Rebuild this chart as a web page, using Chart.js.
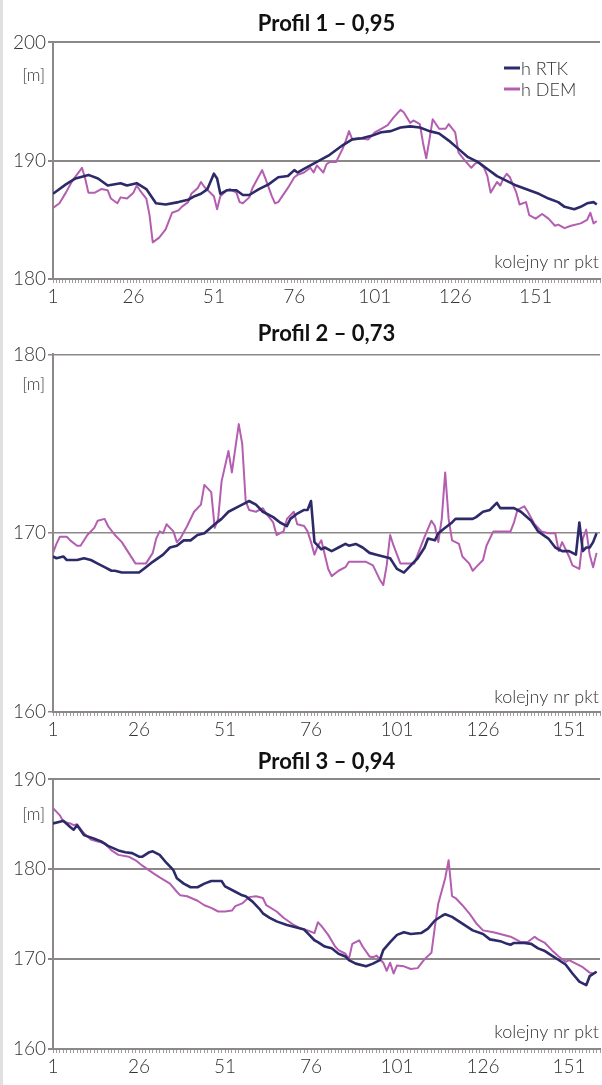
<!DOCTYPE html>
<html><head><meta charset="utf-8">
<script src="https://cdn.jsdelivr.net/npm/chart.js@4.4.1/dist/chart.umd.min.js"></script>
<style>
html,body{margin:0;padding:0;background:#fff;}
body{width:602px;height:1085px;position:relative;overflow:hidden;}
canvas{position:absolute;left:0;}
#edge{position:absolute;left:0;top:0;width:3px;height:1085px;background:#e0e0e0;}
</style></head><body>
<canvas id="c1" width="602" height="309" style="top:0px"></canvas>
<canvas id="c2" width="602" height="433" style="top:309px"></canvas>
<canvas id="c3" width="602" height="337" style="top:742px"></canvas>
<div id="edge"></div>
<script>
// ---- data ----
const xTickLabels = [1, 26, 51, 76, 101, 126, 151];
const seriesNames = ['h RTK', 'h DEM'];
const titles = ['Profil 1 \u2013 0,95', 'Profil 2 \u2013 0,73', 'Profil 3 \u2013 0,94'];
const yUnit = '[m]';
const xAxisName = 'kolejny nr pkt';

// Profil 1
const p1RtkPt = [1,5,8,12,15,18,22,24,27,30,33,36,40,43,45,47,49,51,52,53,55,58,60,62,65,68,71,74,76,77,79,83,87,91,94,97,100,103,106,109,112,115,118,121,124,127,130,133,136,139,142,145,149,152,155,158,160,163,165,167,169,170];
const p1RtkH  = [187.2,188.0,188.5,188.8,188.5,187.9,188.1,187.9,188.1,187.6,186.4,186.3,186.5,186.7,187.0,187.2,187.6,188.9,188.5,187.2,187.5,187.5,187.1,187.1,187.6,188.0,188.6,188.7,189.2,189.0,189.3,189.9,190.5,191.3,191.8,191.9,192.1,192.4,192.5,192.8,192.9,192.8,192.5,192.3,191.7,191.0,190.3,189.9,189.3,188.7,188.3,187.9,187.5,187.2,186.8,186.5,186.1,185.9,186.1,186.4,186.5,186.3];
const p1DemPt = [1,3,5,7,10,11,12,14,16,18,19,21,22,24,26,27,28,30,31,32,34,36,37,38,40,41,43,44,46,47,48,51,52,53,55,56,58,59,60,62,63,65,66,67,69,70,71,73,74,76,77,79,81,82,83,85,86,87,89,91,92,93,94,96,99,101,103,105,107,109,110,112,113,115,116,117,118,119,121,123,124,126,127,129,131,132,133,135,136,137,139,140,141,142,143,145,146,148,149,151,153,155,157,158,160,162,165,167,168,169,170];
const p1DemH  = [186.0,186.4,187.3,188.3,189.4,188.5,187.3,187.3,187.6,187.5,186.8,186.4,186.9,186.8,187.3,187.9,187.5,186.8,185.4,183.1,183.5,184.2,184.9,185.6,185.8,186.1,186.5,187.2,187.7,188.2,187.8,187.0,185.9,187.0,187.5,187.6,187.3,186.5,186.4,186.9,187.7,188.7,189.2,188.5,187.0,186.4,186.5,187.3,187.7,188.6,188.8,189.0,189.4,189.0,189.6,189.0,189.7,189.9,189.9,191.0,191.7,192.5,191.8,191.9,191.8,192.4,192.7,193.0,193.7,194.3,194.1,193.2,193.4,193.1,191.5,190.2,191.8,193.5,192.7,192.7,193.1,192.4,190.7,190.0,189.4,189.7,189.9,189.4,188.7,187.3,188.2,187.9,188.5,188.9,188.6,187.3,186.3,186.5,185.4,185.1,185.5,185.1,184.5,184.6,184.3,184.5,184.7,185.0,185.6,184.7,184.9];

// Profil 2
const p2RtkPt = [1,2,4,5,8,10,12,14,16,18,19,21,23,26,28,30,33,35,37,39,41,43,45,48,50,52,55,57,58,60,62,65,67,69,70,72,74,75,76,77,78,79,80,82,84,86,87,89,91,93,95,97,99,100,101,103,105,107,109,110,112,113,115,117,118,120,123,124,126,128,130,131,134,135,137,140,142,145,147,149,151,153,154,155,156,157,158,159];
const p2RtkH  = [168.7,168.6,168.7,168.5,168.5,168.6,168.5,168.3,168.1,167.9,167.9,167.8,167.8,167.8,168.1,168.4,168.8,169.2,169.3,169.6,169.6,169.9,170.0,170.5,170.8,171.2,171.5,171.7,171.8,171.6,171.2,170.9,170.6,170.4,170.8,171.1,171.3,171.3,171.8,169.5,169.3,169.1,169.2,169.0,169.2,169.4,169.3,169.4,169.2,168.9,168.8,168.7,168.6,168.3,168.0,167.8,168.2,168.6,169.2,169.7,169.6,170.0,170.3,170.6,170.8,170.8,170.8,170.9,171.2,171.3,171.7,171.4,171.4,171.4,171.2,170.7,170.1,169.7,169.2,169.0,169.0,168.8,170.6,169.0,169.2,169.2,169.5,170.0];
const p2DemPt = [1,2,3,5,6,8,9,11,13,14,16,17,19,21,23,25,28,30,31,32,33,34,36,37,38,40,42,44,45,47,48,49,50,52,53,55,56,57,58,60,62,63,65,66,68,69,71,72,74,75,76,77,78,79,80,81,82,84,86,87,89,92,94,96,97,98,99,100,102,104,106,107,109,111,112,113,114,115,116,117,119,120,122,123,124,126,127,129,131,134,135,136,138,139,141,143,145,147,148,149,151,152,154,155,156,157,158,159];
const p2DemH  = [168.9,169.4,169.8,169.8,169.6,169.3,169.3,169.9,170.3,170.7,170.8,170.4,169.9,169.5,168.9,168.3,168.3,168.9,169.7,170.1,170.0,170.5,170.1,169.5,169.7,170.4,171.2,171.6,172.7,172.3,170.3,170.8,172.9,174.6,173.4,176.1,175.0,171.8,171.3,171.2,171.4,171.1,170.6,169.9,170.1,170.8,171.2,170.5,170.4,170.1,169.5,168.8,169.3,169.6,168.8,168.0,167.6,167.9,168.1,168.4,168.4,168.4,168.2,167.4,167.1,168.2,169.9,169.3,168.3,168.3,168.3,168.8,169.8,170.7,170.4,169.5,170.8,173.4,170.8,169.6,169.4,168.7,168.3,167.9,168.1,168.5,169.3,170.1,170.1,170.1,170.6,171.3,171.5,171.2,170.5,170.1,170.0,170.0,169.0,169.5,168.7,168.2,168.0,169.7,170.2,168.8,168.1,168.9];

// Profil 3
const p3RtkPt = [1,3,4,6,7,8,10,13,15,17,20,22,24,26,27,29,30,32,34,36,37,39,41,43,45,47,50,51,54,56,57,59,61,62,64,66,69,71,74,75,77,78,80,82,84,86,87,89,92,94,96,97,99,101,103,105,108,110,112,114,115,117,119,121,123,126,128,131,133,134,135,138,140,142,144,146,148,150,152,154,156,157,159];
const p3RtkH  = [185.1,185.3,185.4,184.7,184.4,184.9,183.8,183.4,183.1,182.6,182.1,181.9,181.8,181.4,181.4,181.9,182.0,181.6,180.7,179.9,179.0,178.4,178.0,178.0,178.4,178.7,178.7,178.1,177.5,177.1,177.0,176.4,175.6,175.1,174.6,174.2,173.8,173.6,173.3,172.9,172.1,171.9,171.4,171.2,170.6,170.3,169.9,169.5,169.2,169.5,169.9,171.0,171.9,172.7,173.0,172.8,172.9,173.4,174.3,174.8,175.0,174.7,174.2,173.7,173.2,172.8,172.2,172.0,171.7,171.6,171.8,171.8,171.7,171.2,170.9,170.4,169.9,169.4,168.4,167.5,167.1,168.1,168.6];
const p3DemPt = [1,3,4,6,7,8,10,12,14,16,18,20,23,25,27,30,32,35,37,38,40,43,45,47,49,51,53,54,56,58,60,62,63,66,68,71,73,75,77,78,79,81,83,84,86,87,88,90,91,93,94,95,97,98,99,100,101,103,105,107,109,111,112,113,115,116,117,118,120,122,124,126,129,131,134,135,137,139,141,142,144,146,148,150,151,153,155,157,158,159];
const p3DemH  = [186.8,186.0,185.3,185.1,184.9,185.0,184.0,183.3,183.1,182.9,182.1,181.6,181.4,181.0,180.4,179.6,179.1,178.4,177.5,177.1,177.0,176.5,176.0,175.7,175.3,175.3,175.4,175.9,176.2,176.9,177.0,176.8,176.0,175.3,174.6,173.8,173.4,173.2,172.9,174.1,173.7,172.7,171.4,171.0,170.6,170.0,171.7,172.1,171.4,170.3,170.2,170.4,169.6,168.7,169.6,168.4,169.3,169.2,168.9,169.0,170.0,170.7,173.6,176.2,179.0,181.0,177.0,176.8,176.0,175.1,174.0,173.2,173.0,172.8,172.5,172.3,171.9,171.9,172.5,172.2,171.8,171.0,170.3,169.7,169.9,169.5,169.1,168.5,168.4,168.6];

// ---- styling ----
const RTK_COLOR = '#2c2a68';
const DEM_COLOR = '#b45eb0';
const AXIS_COLOR = '#8c8888';
const TEXT_COLOR = '#333333';
const FONT = 'Lato, "Noto Sans", sans-serif';

const extras = {
  id: 'extras',
  afterDraw(chart, args, o) {
    const {ctx, chartArea} = chart;
    ctx.save();
    ctx.fillStyle = TEXT_COLOR;
    ctx.font = '300 17px ' + FONT;
    ctx.textBaseline = 'middle';
    ctx.textAlign = 'right';
    ctx.fillText(yUnit, chartArea.left - 8, chartArea.top + o.unitDy);
    ctx.font = '300 18px ' + FONT;
    ctx.fillText(xAxisName, 599, chartArea.bottom - o.nameDy);
    if (o.legend) {
      ctx.textAlign = 'left';
      ctx.font = '300 18px ' + FONT;
      chart.data.datasets.forEach((ds, i) => {
        const y = o.legendY[i];
        ctx.strokeStyle = ds.borderColor;
        ctx.lineWidth = 3;
        ctx.beginPath();
        ctx.moveTo(504, y);
        ctx.lineTo(520, y);
        ctx.stroke();
        ctx.fillStyle = TEXT_COLOR;
        ctx.fillText(ds.label, 521, y + 1);
      });
    }
    ctx.restore();
  }
};

function pts(xs, ys) { return xs.map((x, i) => ({x: x, y: ys[i]})); }

function makeChart(id, title, titlePad, yMin, yMax, xMax, gridW, rtkPt, rtkH, demPt, demH, ex) {
  return new Chart(document.getElementById(id), {
    type: 'line',
    data: {
      datasets: [
        {label: seriesNames[0], data: pts(rtkPt, rtkH), borderColor: RTK_COLOR, borderWidth: 2.6, pointRadius: 0, tension: 0, borderJoinStyle: 'round'},
        {label: seriesNames[1], data: pts(demPt, demH), borderColor: DEM_COLOR, borderWidth: 2, pointRadius: 0, tension: 0, borderJoinStyle: 'round'}
      ]
    },
    options: {
      responsive: false,
      animation: false,
      devicePixelRatio: 1,
      layout: {padding: 0},
      plugins: {
        legend: {display: false},
        tooltip: {enabled: false},
        title: {display: true, text: title, fullSize: false, color: '#111',
          font: {family: FONT, size: 22, weight: 'bold', lineHeight: 1.2},
          padding: titlePad},
        extras: ex
      },
      scales: {
        x: {
          type: 'linear', min: 1, max: xMax,
          afterFit(s) { s.height = 30; },
          ticks: {stepSize: 1, autoSkip: false, maxRotation: 0, minRotation: 0, padding: 2,
            color: TEXT_COLOR, font: {family: FONT, size: 19, weight: '300'},
            callback: (v) => xTickLabels.includes(v) ? String(v) : ''},
          grid: {drawOnChartArea: false, drawTicks: true, tickLength: 4, color: '#a09c9c', lineWidth: 1},
          border: {display: true, color: AXIS_COLOR, width: 2}
        },
        y: {
          min: yMin, max: yMax,
          afterFit(s) { s.width = 53; },
          ticks: {stepSize: 10, padding: 2, color: TEXT_COLOR, font: {family: FONT, size: 19, weight: '300'}},
          grid: {color: AXIS_COLOR, lineWidth: gridW, tickLength: 5, drawTicks: true},
          border: {display: true, color: AXIS_COLOR, width: 2}
        }
      }
    },
    plugins: [extras]
  });
}

makeChart('c1', titles[0], {top: 11, bottom: 5}, 180, 200, 171, 2, p1RtkPt, p1RtkH, p1DemPt, p1DemH,
  {unitDy: 33, nameDy: 17, legend: true, legendY: [68, 89]});
makeChart('c2', titles[1], {top: 12, bottom: 7}, 160, 180, 160, 1.5, p2RtkPt, p2RtkH, p2DemPt, p2DemH,
  {unitDy: 30, nameDy: 15, legend: false});
makeChart('c3', titles[2], {top: 7, bottom: 4}, 160, 190, 160, 2, p3RtkPt, p3RtkH, p3DemPt, p3DemH,
  {unitDy: 35, nameDy: 17, legend: false});
</script>
</body></html>
